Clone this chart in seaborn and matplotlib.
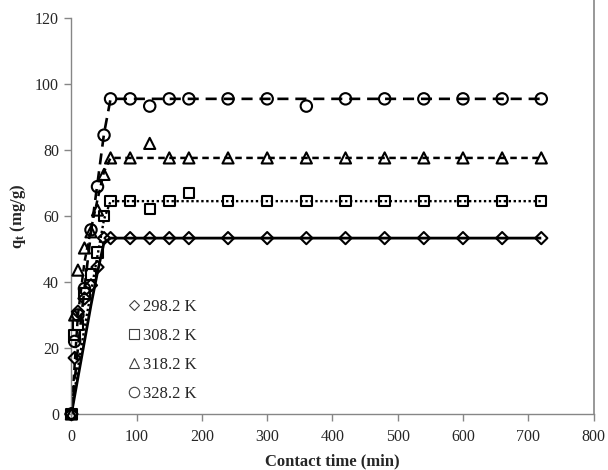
import matplotlib
matplotlib.use("Agg")
import matplotlib.pyplot as plt
from matplotlib.lines import Line2D
import seaborn as sns
import pandas as pd

# ---------------- data ----------------
time_min = [0, 5, 10, 20, 30, 40, 50, 60, 90, 120, 150, 180, 240, 300, 360, 420, 480, 540, 600, 660, 720]
q_298 = [0, 17, 31, 35, 39, 44.5, 53.3, 53.3, 53.3, 53.3, 53.3, 53.3, 53.3, 53.3, 53.3, 53.3, 53.3, 53.3, 53.3, 53.3, 53.3]
q_308 = [0, 24, 27, 36.5, 42.3, 48.9, 60, 64.5, 64.5, 62.2, 64.5, 67, 64.5, 64.5, 64.5, 64.5, 64.5, 64.5, 64.5, 64.5, 64.5]
q_318 = [0, 30, 43.6, 50.3, 55.2, 61.8, 72.6, 77.6, 77.6, 82, 77.6, 77.6, 77.6, 77.6, 77.6, 77.6, 77.6, 77.6, 77.6, 77.6, 77.6]
q_328 = [0, 22, 30, 38, 55.8, 68.9, 84.5, 95.5, 95.5, 93.3, 95.5, 95.5, 95.5, 95.5, 93.3, 95.5, 95.5, 95.5, 95.5, 95.5, 95.5]

# model (fitted) curves
model_t = [0, 10, 20, 30, 40, 50, 60, 720]
fit_298 = [0, 11, 22, 33, 43, 52, 53.3, 53.3]
fit_308 = [0, 14, 26, 37, 48, 59, 64.5, 64.5]
fit_318 = [0, 30, 46, 56, 65, 73.5, 77.6, 77.6]
fit_328 = [0, 20, 38, 55, 70, 85, 95.5, 95.5]

labels = ["298.2 K", "308.2 K", "318.2 K", "328.2 K"]
x_ticks = [0, 100, 200, 300, 400, 500, 600, 700, 800]
y_ticks = [0, 20, 40, 60, 80, 100, 120]

# ---------------- style ----------------
sns.set_style("white")
plt.rcParams["font.family"] = ["Liberation Serif", "DejaVu Serif"]
plt.rcParams["mathtext.fontset"] = "custom"
plt.rcParams["mathtext.rm"] = "Liberation Serif"
plt.rcParams["mathtext.bf"] = "Liberation Serif:bold"
plt.rcParams["mathtext.it"] = "Liberation Serif:italic"

W, H = 608, 470
fig = plt.figure(figsize=(W / 100, H / 100), dpi=100)
ax = fig.add_axes([71.4 / W, 1 - 414 / H, (593.5 - 71.4) / W, (414 - 18) / H])

series = [
    (q_298, fit_298, "D", (0, ()), 2.0, 6.2),
    (q_308, fit_308, "s", (0, (1.0, 1.1)), 1.7, 7.5),
    (q_318, fit_318, "^", (0, (2.6, 1.8)), 1.8, 8.0),
    (q_328, fit_328, "o", (0, (4.2, 2.6)), 1.9, 8.2),
]

for q, fit, mk, ls, lw, ms in series:
    dfit = pd.DataFrame({"t": model_t, "q": fit})
    sns.lineplot(data=dfit, x="t", y="q", ax=ax, color="black", linewidth=lw,
                 linestyle=ls, legend=False, zorder=2)
    dq = pd.DataFrame({"t": time_min, "q": q})
    sns.scatterplot(data=dq, x="t", y="q", ax=ax, marker=mk, s=ms ** 2,
                    facecolor="none", edgecolor="black", linewidth=1.5,
                    legend=False, zorder=3, clip_on=False)

ax.set_xlim(0, 800)
ax.set_ylim(0, 120)
ax.set_xticks(x_ticks)
ax.set_yticks(y_ticks)
ax.set_xticklabels([str(v) for v in x_ticks])
ax.set_yticklabels([str(v) for v in y_ticks])
ax.tick_params(axis="both", direction="out", length=5, width=1, color="#868686",
               labelsize=11.5, left=True, bottom=True)
ax.tick_params(axis="x", pad=6)
ax.tick_params(axis="y", pad=4)

for side in ["left", "bottom"]:
    ax.spines[side].set_color("#868686")
    ax.spines[side].set_linewidth(1)
ax.spines["top"].set_visible(False)
ax.spines["right"].set_visible(False)

ax.set_xlabel("Contact time (min)", fontsize=12, fontweight="bold", labelpad=6)
ax.set_ylabel(r"q$_\mathbf{t}$ (mg/g)", fontsize=12, fontweight="bold", labelpad=5)

# outer chart border line on the right
fig.add_artist(Line2D([593.5 / W, 593.5 / W], [1 - 414 / H, 1.0], transform=fig.transFigure,
                      color="#868686", linewidth=1.2))

# legend (markers only)
handles = []
for (_, _, mk, _, _, _), lab in zip(series, labels):
    lms = {"D": 5.5, "s": 7.5, "^": 7.5, "o": 7.5}[mk]
    handles.append(Line2D([], [], marker=mk, linestyle="none", markersize=lms,
                          markerfacecolor="none", markeredgecolor="#404040",
                          markeredgewidth=0.8, label=lab))
leg = ax.legend(handles=handles, loc="upper left", bbox_to_anchor=(57 / 522, 1 - 281 / 396),
                frameon=False, fontsize=12, handlelength=0.7, handletextpad=0.15,
                labelspacing=0.78, borderaxespad=0, borderpad=0)

fig.savefig("out.png", dpi=100)
